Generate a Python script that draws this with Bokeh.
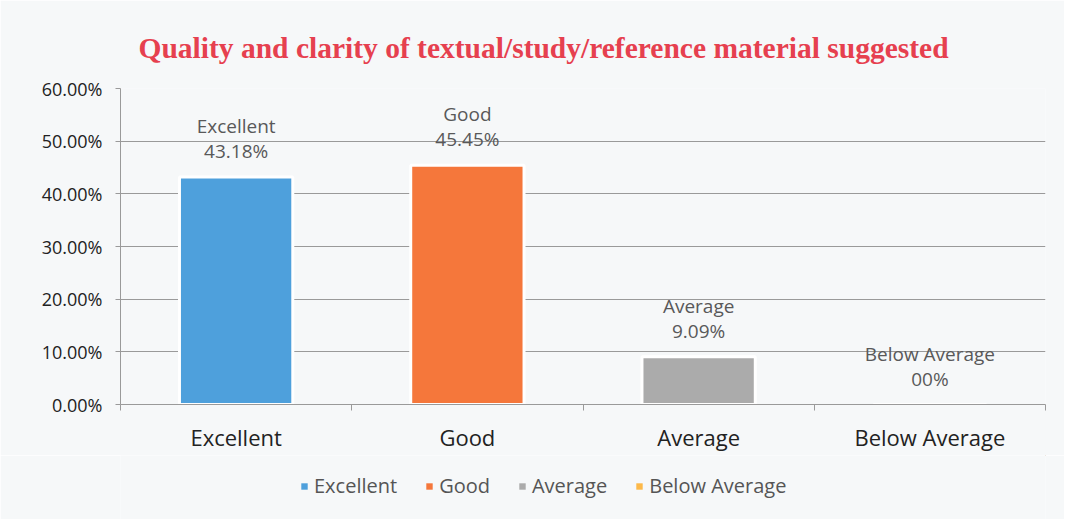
from bokeh.plotting import figure
from bokeh.layouts import column
from bokeh.models import (ColumnDataSource, Range1d, FixedTicker, PrintfTickFormatter,
                          Legend, LegendItem)
from bokeh.core.properties import value
from bokeh.embed import file_html
from bokeh.resources import INLINE

categories = ["Excellent", "Good", "Average", "Below Average"]
values = [43.18, 45.45, 9.09, 0.0]
value_labels = ["43.18%", "45.45%", "9.09%", "00%"]
colors = ["#4ea0dc", "#f5773b", "#ababab", "#fdb94a"]
y_ticks = [0, 10, 20, 30, 40, 50, 60]

xs = [i + 0.5 for i in range(len(categories))]
src = ColumnDataSource(dict(x=xs, y=values, cat=categories, lab=value_labels, color=colors))

BG = "#f6f8f9"
FONT = "Open Sans"
W = 1064
H_MAIN = 455
H_LEG = 64

p = figure(width=W, height=H_MAIN, output_backend="svg", toolbar_location=None,
           x_range=Range1d(0, len(categories)), y_range=Range1d(0, 60),
           min_border_left=120, min_border_right=W - 1045, min_border_top=88,
           min_border_bottom=H_MAIN - 404,
           background_fill_color=BG, border_fill_color=BG, outline_line_color=None)

p.title.text = "Quality and clarity of textual/study/reference material suggested"
p.title.text_font = "Liberation Serif"
p.title.text_font_size = "29.5px"
p.title.text_font_style = "bold"
p.title.text_color = "#e6404f"
p.title.align = "left"
p.title.offset = 18
p.title.standoff = 50

r = p.vbar(x="x", top="y", width=0.49, source=src, fill_color="color",
           line_color="white", line_width=3)

p.text(x="x", y="y", text="cat", source=src, y_offset=-51, text_align="center",
       text_baseline="middle", text_font=value(FONT), text_font_size="19px", text_color="#595959")
p.text(x="x", y="y", text="lab", source=src, y_offset=-26, text_align="center",
       text_baseline="middle", text_font=value(FONT), text_font_size="19px", text_color="#595959")

# axes
p.yaxis.ticker = FixedTicker(ticks=y_ticks)
p.yaxis.formatter = PrintfTickFormatter(format="%.2f%%")
p.yaxis.major_label_text_font = FONT
p.yaxis.major_label_text_font_size = "18px"
p.yaxis.major_label_text_color = "#222222"
p.yaxis.major_tick_in = 0
p.yaxis.major_tick_out = 5
p.yaxis.minor_tick_line_color = None
p.yaxis.major_label_standoff = 13
p.yaxis.axis_line_color = "#9a9a9a"
p.yaxis.major_tick_line_color = "#9a9a9a"

p.xaxis.ticker = FixedTicker(ticks=xs, minor_ticks=list(range(len(categories) + 1)))
p.xaxis.major_label_overrides = {x: c for x, c in zip(xs, categories)}
p.xaxis.major_label_text_font = FONT
p.xaxis.major_label_text_font_size = "22px"
p.xaxis.major_label_text_color = "#222222"
p.xaxis.major_tick_line_color = None
p.xaxis.minor_tick_in = 0
p.xaxis.minor_tick_out = 6
p.xaxis.minor_tick_line_color = "#9a9a9a"
p.xaxis.major_label_standoff = 11
p.xaxis.axis_line_color = "#9a9a9a"

p.xgrid.grid_line_color = None
p.ygrid.grid_line_color = "#9a9a9a"
p.ygrid.ticker = FixedTicker(ticks=y_ticks)

# legend strip (separate canvas so it is not clipped by the plot frame)
lf = figure(width=W, height=H_LEG, output_backend="svg", toolbar_location=None,
            x_range=Range1d(0, 1), y_range=Range1d(0, 1),
            min_border=0, background_fill_color=BG, border_fill_color=BG,
            outline_line_color=None)
lf.axis.visible = False
lf.grid.visible = False
items = []
for c, col in zip(categories, colors):
    rr = lf.vbar(x=[5], top=[5], bottom=[4], width=0.1, fill_color=col, line_color=None)
    items.append(LegendItem(label=c, renderers=[rr]))
legend = Legend(items=items, orientation="horizontal", location=(180, 20),
                background_fill_alpha=0, border_line_color=None,
                glyph_width=8, glyph_height=8, label_standoff=6, spacing=28,
                label_text_font=FONT, label_text_font_size="20px", label_text_color="#555555",
                margin=0, padding=0)
lf.add_layout(legend, "center")

layout = column(p, lf, spacing=0)
open("out.html", "w").write(file_html(layout, INLINE))
